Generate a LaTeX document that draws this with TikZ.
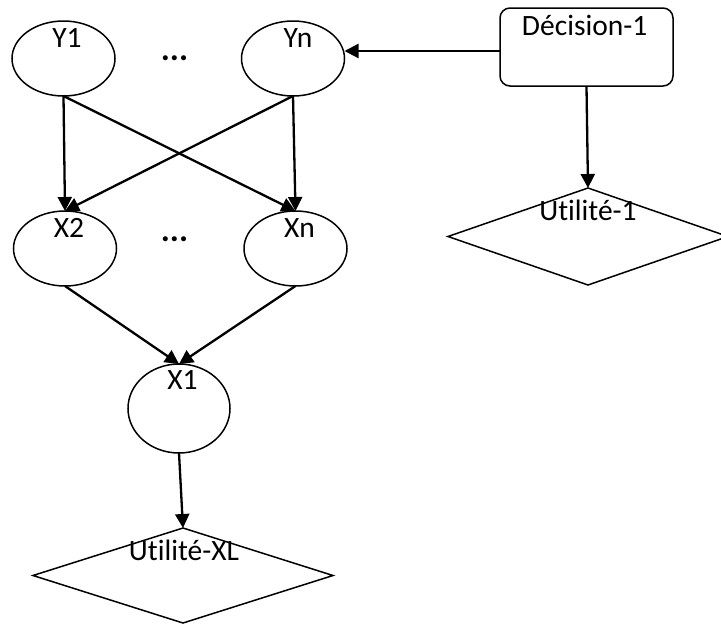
\documentclass[tikz,border=0pt]{standalone}
\usepackage{fontspec}
\setmainfont{Carlito}[RawFeature=-liga]
\usetikzlibrary{shapes.geometric,arrows.meta}
\begin{document}
\begin{tikzpicture}[x=1pt,y=-1pt,
  every node/.style={inner sep=0pt, outer sep=0pt},
  var/.style={draw, ellipse, line width=1.5pt, minimum width=103pt, minimum height=75pt},
  util/.style={draw, diamond, line width=1.5pt},
  decision/.style={draw, rounded corners=10pt, line width=1.5pt, minimum width=173pt, minimum height=78pt},
  txt/.style={anchor=base, font=\fontsize{29.5}{32}\selectfont},
  dots/.style={anchor=base, font=\fontsize{34}{36}\selectfont\bfseries},
  arr/.style={line width=2.3pt, -{Triangle[length=14pt,width=14pt]}}
]
\useasboundingbox (0,0) rectangle (721,624);
\clip (0,0) rectangle (721,624);

% chance nodes
\node[var] (y1) at (63.5,58.5) {};
\node[var] (yn) at (293,58.5) {};
\node[var] (x2) at (65,248.5) {};
\node[var] (xn) at (295.5,248.5) {};
\node[var, minimum width=102pt, minimum height=89pt] (x1) at (179,408.5) {};

% decision and utility nodes
\node[decision] (dec) at (586.5,47) {};
\node[util, minimum width=280pt, minimum height=97pt] (u1) at (588,236.5) {};
\node[util, minimum width=300pt, minimum height=95pt] (uxl) at (183,575.5) {};

% labels
\node[txt] (ty1) at (67,47) {Y1};
\node[txt] (tyn) at (298,47) {Yn};
\node[txt] (tx2) at (69,237) {X2};
\node[txt] (txn) at (299.5,237) {Xn};
\node[txt] (tx1) at (182.5,389) {X1};
\node[txt] (tdec) at (584.7,35) {Décision-1};
\node[txt] (tu1) at (588,220) {Utilité-1};
\node[txt] (tuxl) at (184,560) {Utilité-XL};
\node[dots] (dd1) at (174.5,60) {...};
\node[dots] (dd2) at (174.5,241) {...};

% edges
\draw[arr] (y1.south) -- (x2.north);
\draw[arr] (y1.south) -- (xn.north);
\draw[arr] (yn.south) -- (x2.north);
\draw[arr] (yn.south) -- (xn.north);
\draw[arr] (x2.south) -- (x1.north);
\draw[arr] (xn.south) -- (x1.north);
\draw[arr] (x1.south) -- (uxl.north);
\coordinate (decout) at ([yshift=-4pt]dec.west);
\draw[arr] (decout) -- (decout -| yn.east);
\draw[arr] (dec.south) -- (u1.north);
\end{tikzpicture}
\end{document}
